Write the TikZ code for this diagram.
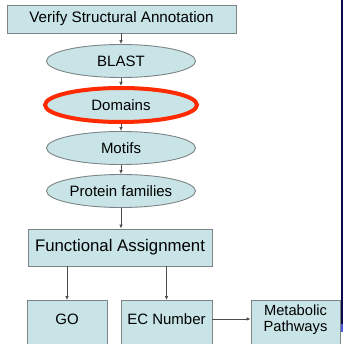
\documentclass[tikz,border=0pt]{standalone}
\usepackage{fontspec}
\setmainfont{Liberation Sans}
\usetikzlibrary{arrows.meta,shapes.geometric}
\definecolor{boxfill}{HTML}{C8E4E7}
\definecolor{edge}{HTML}{7C8486}
\definecolor{hilite}{HTML}{FF2A00}
\definecolor{navy}{HTML}{0A0A4A}
\definecolor{barblue}{HTML}{4A5ADC}
\tikzset{
  rbox/.style={draw=edge, fill=boxfill, line width=0.9pt, inner sep=0pt},
  oval/.style={ellipse, draw=edge, fill=boxfill, line width=0.9pt, inner sep=0pt, minimum width=149pt, minimum height=33pt, font=\fontsize{15}{17}\selectfont},
  flow/.style={draw=black!70, line width=0.7pt, -{Latex[length=4pt,width=3.5pt]}},
  txt/.style={inner sep=0pt, font=\fontsize{15}{17}\selectfont}
}
\begin{document}
\begin{tikzpicture}[x=1pt,y=-1pt]
\clip (0,0) rectangle (343,344);
\fill[white] (0,0) rectangle (343,344);
\fill[navy] (341.3,0) rectangle (343,324);
\fill[barblue] (341.3,324) rectangle (343,332);
% top box
\node[rbox, minimum width=229pt, minimum height=28pt, font=\fontsize{15.2}{17}\selectfont] (top) at (121.5,19) {Verify Structural Annotation};
\node[oval] (blast) at (121,61) {BLAST};
\node[oval, draw=hilite, line width=4pt, minimum width=152pt, minimum height=34pt] (dom) at (121,105) {Domains};
\node[oval] (mot) at (121,148) {Motifs};
\node[oval] (prot) at (121,191) {Protein families};
\node[rbox, minimum width=184pt, minimum height=37pt, font=\fontsize{16.8}{19}\selectfont] (fa) at (120,247.5) {Functional Assignment};
% bottom boxes (cut off by the lower edge)
\node[rbox, minimum width=80pt, minimum height=70pt, anchor=north] (go) at (67,300) {};
\node[txt] (gol) at (67,319) {GO};
\node[rbox, minimum width=91pt, minimum height=70pt, anchor=north] (ec) at (166.5,300) {};
\node[txt] (ecl) at (166.5,319) {EC Number};
\node[rbox, minimum width=89pt, minimum height=70pt, anchor=north] (met) at (295.5,300) {};
\node[txt, font=\fontsize{14.7}{16}\selectfont, align=center] (metl) at (295.5,319.5) {Metabolic\\Pathways};
% connectors
\draw[flow] (top.south -| blast.north) -- (blast.north);
\draw[flow] (blast.south) -- (dom.north);
\draw[flow] (dom.south) -- (mot.north);
\draw[flow] (mot.south) -- (prot.north);
\draw[flow] (prot.south) -- (prot.south |- fa.north);
\draw[flow] (fa.south -| go.north) -- (go.north);
\draw[flow] (fa.south -| ec.north) -- (ec.north);
\draw[flow] (ec.east |- ecl) -- (met.west |- ecl);
\end{tikzpicture}
\end{document}
